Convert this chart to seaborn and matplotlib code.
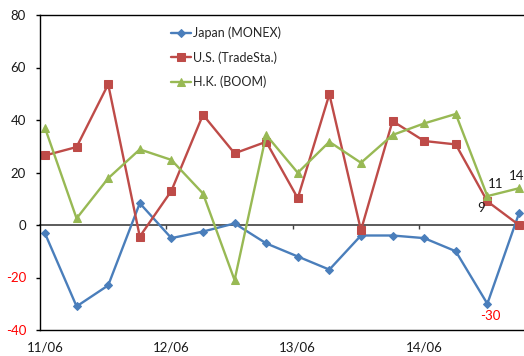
import numpy as np
import matplotlib
matplotlib.use("Agg")
import matplotlib.pyplot as plt
import seaborn as sns

# Quarterly growth (%) for three online brokers, 2011/06 - 2015/03
periods = ["11/06", "11/09", "11/12", "12/03", "12/06", "12/09", "12/12", "13/03",
           "13/06", "13/09", "13/12", "14/03", "14/06", "14/09", "14/12", "15/03"]
japan = [-3.2, -31, -23, 8.3, -5, -2.5, 0.6, -7, -12, -17, -4, -4, -5, -10, -30, 4.4]
us = [26.5, 29.7, 53.6, -4.4, 13, 42, 27.3, 31.7, 10.2, 49.8, -2, 39.6, 32, 30.7, 9, 0]
hk = [37, 2.5, 17.8, 28.8, 24.8, 12, -21, 34.3, 19.9, 31.7, 23.7, 34.3, 38.7, 42.3, 11, 14]
series_names = ["Japan (MONEX)", "U.S. (TradeSta.)", "H.K. (BOOM)"]
tick_labels = ["11/06", "12/06", "13/06", "14/06"]
y_ticks = [-40, -20, 0, 20, 40, 60, 80]

sns.set_style("white")
plt.rcParams["font.family"] = ["Lato", "DejaVu Sans"]

fig = plt.figure(figsize=(5.24, 3.56), dpi=100)
ax = fig.add_axes([40 / 524, 26 / 356, 484 / 524, 315 / 356])

x = np.arange(len(periods))
styles = [
    (japan, "#4A7EBB", "D", 4.0),
    (us, "#BE4B48", "s", 5.5),
    (hk, "#98B954", "^", 6.0),
]
for (vals, color, marker, ms), name in zip(styles, series_names):
    sns.lineplot(x=x, y=vals, ax=ax, color=color, marker=marker, markersize=ms,
                 markeredgecolor=color, linewidth=1.7, label=name)

ax.set_xlim(-0.158, 15.16)
ax.set_ylim(-40, 80)

# y axis
ax.set_yticks(y_ticks)
ax.set_yticklabels([str(v) for v in y_ticks], fontsize=9.5)
for lbl, v in zip(ax.get_yticklabels(), y_ticks):
    lbl.set_color("#FF0000" if v < 0 else "#1a1a1a")
ax.tick_params(axis="y", direction="out", length=3, width=1, color="black",
               pad=7, left=True)

# category labels under the plot
ax.set_xticks(x[::4])
ax.set_xticklabels(tick_labels, fontsize=9.5, color="#1a1a1a")
ax.tick_params(axis="x", length=0, pad=8)

for side in ["left", "top", "bottom"]:
    ax.spines[side].set_visible(True)
    ax.spines[side].set_color("black")
    ax.spines[side].set_linewidth(1.0)
ax.spines["right"].set_visible(False)

# horizontal axis crossing at zero, with tick marks
zero_axis = ax.secondary_xaxis(40 / 120)
zero_axis.set_xticks(x[::4][1:] - 0.158)
zero_axis.set_xticklabels([])
zero_axis.tick_params(axis="x", direction="out", length=3, width=1, color="#404040")
zero_axis.spines["bottom"].set_color("#404040")
zero_axis.spines["bottom"].set_linewidth(1.2)
zero_axis.spines["top"].set_visible(False)

ax.legend(loc="upper left", bbox_to_anchor=(0.25, 0.995), frameon=False,
          fontsize=9, handlelength=1.6, handletextpad=0.15, labelspacing=0.95,
          borderpad=0.3)

# value labels on the last quarters
ax.annotate(f"{hk[14]:.0f}", (x[14], hk[14]), xytext=(6, 9), textcoords="offset points",
            ha="center", va="center", fontsize=9.5, color="#1a1a1a")
ax.annotate(f"{us[14]:.0f}", (x[14], us[14]), xytext=(-4.5, -5), textcoords="offset points",
            ha="center", va="center", fontsize=9.5, color="#1a1a1a")
ax.annotate(f"{japan[14]:.0f}", (x[14], japan[14]), xytext=(2, -8.5), textcoords="offset points",
            ha="center", va="center", fontsize=9.5, color="#FF0000")
ax.annotate(f"{hk[15]:.0f}", (x[15], hk[15]), xytext=(-1.5, 9), textcoords="offset points",
            ha="center", va="center", fontsize=9.5, color="#1a1a1a", annotation_clip=False)

fig.savefig("out.png", dpi=100)
